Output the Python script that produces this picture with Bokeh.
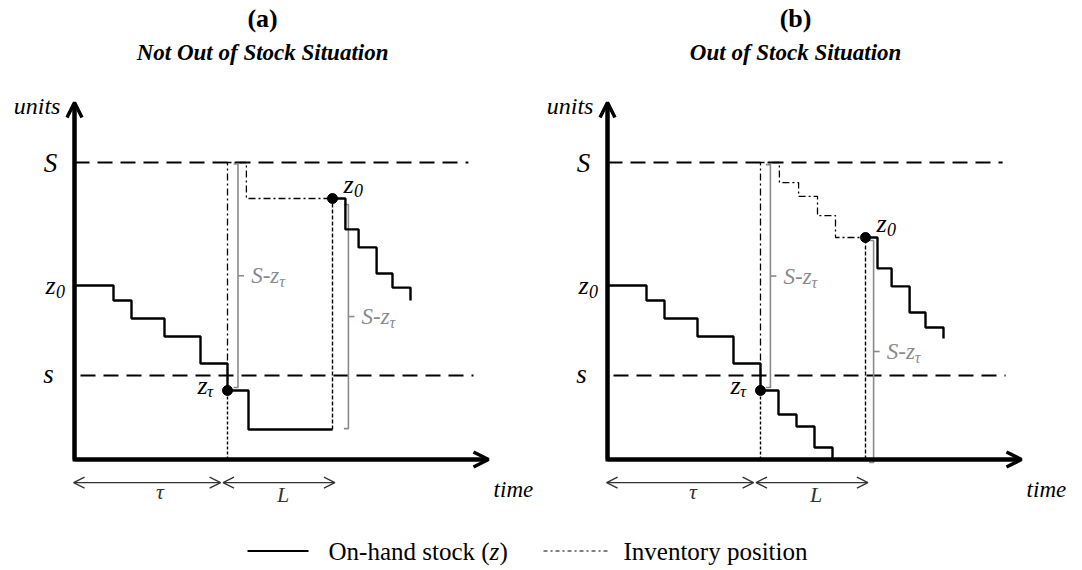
from bokeh.plotting import figure
from bokeh.layouts import column, row
from bokeh.models import Range1d, Arrow, OpenHead
from bokeh.core.properties import value
from bokeh.embed import file_html
from bokeh.resources import INLINE

# ---------------- data (diagram units: time / units) ----------------
S_LEVEL = 99          # order-up-to level S
s_LEVEL = 28          # reorder point s
Z0_START = 58         # initial stock z0
TAU = 51              # review / order moment
LEAD = 35             # lead time L
Y_AXIS_TOP = 119
X_AXIS_END = 138

# panel (a): not out of stock
a_stock_t = [0, 13, 19, 30, 42, 51, 58, 86]
a_stock_u = [58, 53, 47, 41, 32, 23, 10, 10]
a_after_t = [86, 90.3, 94.7, 100.7, 106, 112]
a_after_u = [87, 76.7, 70.7, 62, 57.3, 53]
a_ip_t = [51, 51, 57.3, 86]
a_ip_u = [23, 99, 87, 87]
a_bracket_x = [54.5, 91.3]
a_bracket_top = [98.5, 85]
a_bracket_bot = [24, 10.3]
a_hline_end = [131.3, 133]

# panel (b): out of stock
b_stock_t = [0, 13, 19, 30, 42, 51, 57, 63, 69, 75, 86]
b_stock_u = [58, 53, 47, 41, 32, 23, 15, 11, 4, 0, 0]
b_after_t = [86, 90, 94.7, 100.7, 106, 112]
b_after_u = [74, 63.7, 57.7, 49, 44, 40.3]
b_ip_t = [51, 51, 57.3, 63.7, 70, 76, 86]
b_ip_u = [23, 99, 92.3, 87.7, 81.3, 74, 74]
b_bracket_x = [54.3, 88.7]
b_bracket_top = [98.3, 73]
b_bracket_bot = [24, -1]
b_hline_end = [131.7, 132.7]

titles = ["(a)", "(b)"]
subtitles = ["Not Out of Stock Situation", "Out of Stock Situation"]
legend_labels = ["On-hand stock (", "z", ")", "Inventory position"]

FONT = value("Liberation Serif, Times New Roman, DejaVu Serif, serif")
GRAY = "#8a8a8a"
PW, PH = 533, 515
LH = 52


def txt(p, x, y, t, size, style="italic", align="left", color="black", xo=0, yo=0):
    p.text(x=[x], y=[y], text=[t], text_font=FONT, text_font_size=size,
           text_font_style=style, text_align=align, text_baseline="middle",
           text_color=color, x_offset=xo, y_offset=yo)


def panel(stock_t, stock_u, after_t, after_u, ip_t, ip_u, br_x, br_top, br_bot,
          hline_end, title, subtitle):
    p = figure(width=PW, height=PH, x_range=Range1d(-74 / 3, (PW - 74) / 3),
               y_range=Range1d((459 - PH) / 3, 459 / 3), x_axis_type=None, y_axis_type=None,
               toolbar_location=None, min_border=0, output_backend="svg")
    p.outline_line_color = None
    p.background_fill_color = "white"

    z_tau = stock_u[stock_t.index(TAU)]
    arrival = after_t[0]

    # S and s levels
    p.line([0, hline_end[0]], [S_LEVEL, S_LEVEL], line_color="black", line_width=2.2, line_dash="15 8")
    p.line([2, hline_end[1]], [s_LEVEL, s_LEVEL], line_color="black", line_width=2.2, line_dash="15 8")

    # brackets S - z_tau
    for bx, bt, bb in zip(br_x, br_top, br_bot):
        mid = (bt + bb) / 2
        p.line([bx - 1.5, bx, bx, bx - 1.5], [bt, bt, bb, bb], line_color=GRAY, line_width=1.6)
        p.line([bx, bx + 2], [mid, mid], line_color=GRAY, line_width=1.6)
        txt(p, bx + 4.4, mid, "S-z", "23px", color=GRAY)
        txt(p, bx + 4.4, mid, "τ", "16px", color=GRAY, xo=28, yo=6)

    # marker verticals
    p.line([TAU, TAU], [0, z_tau], line_color="black", line_width=1.4, line_dash="3 2")
    p.line([arrival, arrival], [stock_u[-1], after_u[0]], line_color="black", line_width=1.4, line_dash="4 2")

    # inventory position
    p.step(ip_t, ip_u, mode="after", line_color="black", line_width=1.3, line_dash="7 3 2 3")

    # on-hand stock
    p.step(stock_t, stock_u, mode="after", line_color="black", line_width=2.4)
    p.step(after_t, after_u, mode="after", line_color="black", line_width=2.4)

    # points
    p.scatter([TAU, arrival], [z_tau, after_u[0]], size=10, color="black")

    # axes
    p.line([0, 0, X_AXIS_END - 2], [Y_AXIS_TOP - 2, 0, 0], line_color="black", line_width=4,
           line_join="miter")
    p.add_layout(Arrow(end=OpenHead(size=15, line_width=3.5), x_start=0, y_start=0,
                       x_end=0, y_end=Y_AXIS_TOP, line_width=4))
    p.add_layout(Arrow(end=OpenHead(size=15, line_width=3.5), x_start=0, y_start=0,
                       x_end=X_AXIS_END, y_end=0, line_width=4))

    # tau and L arrows
    p.add_layout(Arrow(start=OpenHead(size=11, line_width=1.3, line_color="#333333"),
                       end=OpenHead(size=11, line_width=1.3, line_color="#333333"),
                       x_start=-0.3, y_start=-7.7, x_end=TAU - 2.3, y_end=-7.7,
                       line_width=1.3, line_color="#333333"))
    p.add_layout(Arrow(start=OpenHead(size=11, line_width=1.3, line_color="#333333"),
                       end=OpenHead(size=11, line_width=1.3, line_color="#333333"),
                       x_start=TAU - 1.5, y_start=-7.7, x_end=TAU + LEAD + 0.8, y_end=-7.7,
                       line_width=1.3, line_color="#333333"))
    txt(p, TAU / 2 + 3, -10.8, "τ", "22px", align="center", color="#333333")
    txt(p, TAU + LEAD / 2 + 1, -11.8, "L", "22px", align="center", color="#333333")
    txt(p, 139.7, -10, "time", "23px")

    # y labels
    txt(p, -4.7, 117.7, "units", "24px", align="right")
    txt(p, -8, S_LEVEL, "S", "27px", align="center")
    txt(p, -9.7, Z0_START, "z", "26px")
    txt(p, -9.7, Z0_START, "0", "18px", xo=10.5, yo=6)
    txt(p, -8.7, s_LEVEL + 0.5, "s", "27px", align="center")

    # point labels
    txt(p, arrival + 3.7, after_u[0] + 4.6, "z", "26px")
    txt(p, arrival + 3.7, after_u[0] + 4.6, "0", "18px", xo=10.5, yo=6)
    txt(p, TAU - 10, z_tau + 1.7, "z", "26px")
    txt(p, TAU - 10, z_tau + 1.7, "τ", "17px", xo=9.5, yo=6)

    # titles
    txt(p, 62.7, 147, title, "26px", style="bold", align="center")
    txt(p, 62.7, 135.7, subtitle, "23px", style="bold italic", align="center")
    return p


pa = panel(a_stock_t, a_stock_u, a_after_t, a_after_u, a_ip_t, a_ip_u,
           a_bracket_x, a_bracket_top, a_bracket_bot, a_hline_end, titles[0], subtitles[0])
pb = panel(b_stock_t, b_stock_u, b_after_t, b_after_u, b_ip_t, b_ip_u,
           b_bracket_x, b_bracket_top, b_bracket_bot, b_hline_end, titles[1], subtitles[1])

# legend strip (screen-pixel layout coordinates)
pl = figure(width=2 * PW, height=LH, x_range=Range1d(0, 2 * PW), y_range=Range1d(PH + LH, PH),
            x_axis_type=None, y_axis_type=None, toolbar_location=None, min_border=0,
            output_backend="svg")
pl.outline_line_color = None
pl.line([247, 308], [550.5, 550.5], line_color="black", line_width=2.2)
txt(pl, 328, 551, legend_labels[0], "25px", style="normal")
txt(pl, 489, 551, legend_labels[1], "25px", style="italic")
txt(pl, 499, 551, legend_labels[2], "25px", style="normal")
pl.line([543, 610], [550.5, 550.5], line_color="black", line_width=1.2, line_dash="4 3 2 3")
txt(pl, 623, 551, legend_labels[3], "25px", style="normal")

layout = column(row(pa, pb), pl)
open("out.html", "w").write(file_html(layout, INLINE))
